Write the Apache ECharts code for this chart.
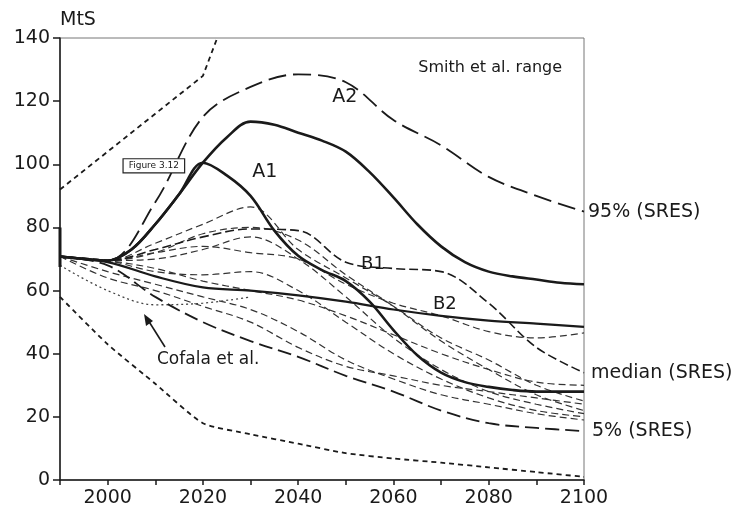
<!DOCTYPE html>
<html>
<head>
<meta charset="utf-8">
<script src="https://cdn.jsdelivr.net/npm/echarts@6/dist/echarts.min.js"></script>
<style>
  html, body { margin: 0; padding: 0; background: #fff; }
  #chart { width: 736px; height: 521px; }
</style>
</head>
<body>
<div id="chart"></div>
<script>
// Sulphur emissions, MtS, 1990-2100
const yr10 = [1990, 2000, 2010, 2020, 2030, 2040, 2050, 2060, 2070, 2080, 2090, 2100];
const yr5 = [1990, 1995, 2000, 2005, 2010, 2015, 2020, 2025, 2030, 2035, 2040, 2045,
             2050, 2055, 2060, 2065, 2070, 2075, 2080, 2085, 2090, 2095, 2100];

const a2 = [70.8, 70, 69.5, 73, 81, 90.5, 100.5, 108.5, 113.5, 112.5, 110, 107.5,
            104, 97.5, 89.5, 81, 74, 69, 66, 64.5, 63.5, 62.5, 62];
const a1 = [70.8, 70, 69.5, 73, 81, 90.5, 100.5, 96.5, 90, 79, 71, 66.5,
            63, 56.5, 47.5, 39.5, 34, 31, 29.5, 28.5, 28, 28, 28];
const b2 = [70.8, 69, 64.5, 61, 60, 58.5, 56.5, 54, 52, 50.5, 49.5, 48.5];
const b1 = [70.8, 69.5, 73, 77, 79.5, 79, 69, 67, 66, 56, 42, 34];
const p95 = [70.8, 69.5, 88, 115, 124.5, 128.5, 126, 114, 106, 96, 90, 85];
const p5 = [70.8, 68, 58, 50, 44, 39, 33, 28, 22, 18, 16.5, 15.5];

const smithUpperYears = [1990, 2000, 2010, 2020, 2025];
const smithUpper = [92, 104, 116, 128, 148];
const smithLower = [58, 43, 30.5, 18, 14.5, 11.5, 8.5, 6.8, 5.5, 4, 2.5, 1];

const cofalaYears = [1990, 2000, 2010, 2020, 2030];
const cofala = [68, 60, 55.5, 56, 58];

// remaining SRES scenarios
const others = [
  [70.8, 69.5, 75, 81, 86.5, 73, 64, 55, 45, 38, 30, 25],
  [70.8, 69.5, 72, 78, 80, 76, 65, 55, 44, 35, 27, 22],
  [70.8, 69.5, 70, 73, 77, 70, 58, 45, 35, 28, 24, 21],
  [70.8, 69.5, 66, 65, 66, 60, 50, 40, 32, 26, 22, 20],
  [70.8, 66, 62, 58, 54, 47, 38, 32, 27, 24, 21, 19],
  [70.8, 64, 60, 55, 50, 42, 36, 33, 30, 28, 26, 24],
  [70.8, 69.5, 72, 74, 72, 70, 62, 56, 52, 47, 45, 46.6],
  [70.8, 69.5, 67, 63, 60, 57, 52, 46, 40, 35, 31, 30]
];

const yTicks = [0, 20, 40, 60, 80, 100, 120, 140];

function pairs(xs, ys) { return xs.map((x, i) => [x, ys[i]]); }

const FONT = 'DejaVu Sans';
const INK = '#1a1a1a';

function lineSeries(name, data, width, dash, color, extra) {
  return Object.assign({
    name: name,
    type: 'line',
    data: data,
    showSymbol: false,
    symbol: 'none',
    smooth: 0.35,
    clip: true,
    lineStyle: { color: color || INK, width: width, type: dash || 'solid' },
    z: 3
  }, extra || {});
}

const series = [];

others.forEach((vals, i) => {
  series.push(lineSeries('s' + i, pairs(yr10, vals), 1.2, [7, 4], '#333', { z: 2 }));
});

series.push(lineSeries('Cofala et al.', pairs(cofalaYears, cofala), 1.3, [2, 3], '#444', { z: 2 }));

series.push(lineSeries('Smith upper', pairs(smithUpperYears, smithUpper), 1.8, [5, 4], INK, { smooth: false }));
series.push(lineSeries('Smith lower', pairs(yr10, smithLower), 1.8, [5, 4], INK, { smooth: 0.2 }));

series.push(lineSeries('95%', pairs(yr10, p95), 1.8, [18, 7], INK, {
  endLabel: { show: true, formatter: '95% (SRES)', color: INK, fontFamily: FONT, fontSize: 19, distance: 4 }
}));
series.push(lineSeries('5%', pairs(yr10, p5), 1.8, [14, 6], INK, {
  endLabel: { show: true, formatter: '5% (SRES)', color: INK, fontFamily: FONT, fontSize: 19, distance: 8 }
}));
series.push(lineSeries('B1', pairs(yr10, b1), 1.6, [9, 4], INK, {
  endLabel: { show: true, formatter: 'median (SRES)', color: INK, fontFamily: FONT, fontSize: 19, distance: 7 }
}));

series.push(lineSeries('B2', pairs(yr10, b2), 2.2, 'solid', INK));
series.push(lineSeries('A1', pairs(yr5, a1), 2.6, 'solid', INK));
series.push(lineSeries('A2', pairs(yr5, a2), 2.6, 'solid', INK));

// 1990 base-year range bar
series.push({
  type: 'line', data: [[1990, 67.5], [1990, 80]], symbol: 'none',
  lineStyle: { color: INK, width: 3 }, z: 4, silent: true
});

// text annotations placed in data coordinates
function note(text, x, y, size, extra) {
  return {
    value: [x, y],
    label: Object.assign({
      show: true, formatter: text, position: [0, 0],
      align: 'center', verticalAlign: 'middle',
      color: INK, fontFamily: FONT, fontSize: size
    }, extra || {})
  };
}
series.push({
  type: 'scatter',
  symbolSize: 0,
  itemStyle: { color: '#fff', opacity: 1 },
  z: 6,
  silent: true,
  data: [
    note('A2', 2049.8, 121.3, 19),
    note('A1', 2033.0, 97.6, 19),
    note('B1', 2055.7, 68.4, 18),
    note('B2', 2070.8, 55.7, 18),
    note('Smith et al. range', 2080.3, 130.5, 16),
    note('Cofala et al.', 2021.1, 38, 17),
    note('Figure 3.12', 2009.7, 99.5, 9, {
      borderColor: '#222', borderWidth: 1.2, padding: [2, 5], backgroundColor: '#fff'
    })
  ]
});

const chart = echarts.init(document.getElementById('chart'), null, { renderer: 'canvas' });
chart.setOption({
  animation: false,
  backgroundColor: '#fff',
  grid: {
    left: 60, right: 152, top: 38, bottom: 41,
    show: true, borderColor: '#777', borderWidth: 1
  },
  xAxis: {
    type: 'value', min: 1990, max: 2100, interval: 10,
    axisLine: { lineStyle: { color: INK, width: 1.5 } },
    axisTick: { show: true, length: 5, lineStyle: { color: INK, width: 1.5 } },
    splitLine: { show: false },
    axisLabel: {
      color: INK, fontFamily: FONT, fontSize: 19, margin: 9,
      formatter: v => (v % 20 === 0 ? String(v) : '')
    }
  },
  yAxis: {
    type: 'value', min: yTicks[0], max: yTicks[yTicks.length - 1], interval: 20,
    name: 'MtS', nameLocation: 'end', nameGap: 8,
    nameTextStyle: { color: INK, fontFamily: FONT, fontSize: 19, align: 'left' },
    axisLine: { show: true, lineStyle: { color: INK, width: 1.5 } },
    axisTick: { show: true, length: 7, lineStyle: { color: INK, width: 1.5 } },
    splitLine: { show: false },
    axisLabel: { color: INK, fontFamily: FONT, fontSize: 19, margin: 10 }
  },
  graphic: [
    {
      // arrow from the Cofala label to its curve
      type: 'line', z: 10,
      shape: { x1: 165, y1: 347, x2: 148, y2: 320 },
      style: { stroke: INK, lineWidth: 1.6 }
    },
    {
      type: 'polygon', z: 10,
      shape: { points: [[144, 314], [146, 326], [153, 321]] },
      style: { fill: INK }
    }
  ],
  series: series
});
</script>
</body>
</html>
